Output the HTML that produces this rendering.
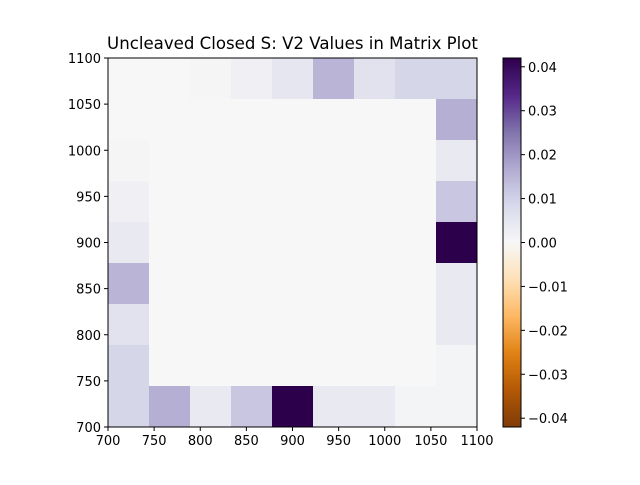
<!DOCTYPE html>
<html><head><meta charset="utf-8"><style>
body{margin:0;background:#fff;}
svg text{font-family:"DejaVu Sans","Liberation Sans",sans-serif;}
</style></head><body>
<svg id="c" width="640" height="480" xmlns="http://www.w3.org/2000/svg"></svg>
<script>
const xTicks=[700,750,800,850,900,950,1000,1050,1100];
const yTicks=[700,750,800,850,900,950,1000,1050,1100];
const cbTicks=[0.04,0.03,0.02,0.01,0.00,-0.01,-0.02,-0.03,-0.04];
const row0=[0,0,0.0005,0.002,0.005,0.015,0.006,0.009,0.009];
const row1=[0,0,0,0,0,0,0,0,0.016];
const row2=[0.0005,0,0,0,0,0,0,0,0.004];
const row3=[0.002,0,0,0,0,0,0,0,0.012];
const row4=[0.004,0,0,0,0,0,0,0,0.042];
const row5=[0.015,0,0,0,0,0,0,0,0.004];
const row6=[0.006,0,0,0,0,0,0,0,0.004];
const row7=[0.009,0,0,0,0,0,0,0,0.001];
const row8=[0.009,0.016,0.004,0.012,0.042,0.004,0.004,0.001,0.001];
const rows=[row0,row1,row2,row3,row4,row5,row6,row7,row8];
const vmin=-0.042,vmax=0.042;
const PX0=108,PX1=477,PY0=58,PY1=427;
const xs=v=>PX0+(v-700)/400*(PX1-PX0);
const ys=v=>PY1-(v-700)/400*(PY1-PY0);
const CBX=503,CBW=18;
const cbY=v=>PY1-(v-vmin)/(vmax-vmin)*(PY1-PY0);
const pu=[[127,59,8],[179,88,6],[224,130,20],[253,184,99],[254,224,182],[247,247,247],[216,218,235],[178,171,210],[128,115,172],[84,39,136],[45,0,75]];
function cmap(v){let t=(v-vmin)/(vmax-vmin);t=Math.max(0,Math.min(1,t))*10;let i=Math.min(9,Math.floor(t)),f=t-i;
const a=pu[i],b=pu[i+1];return 'rgb('+a.map((c,k)=>Math.round(c+(b[k]-c)*f)).join(',')+')';}
const svg=document.getElementById('c');const NS='http://www.w3.org/2000/svg';
function el(t,a,p){const e=document.createElementNS(NS,t);for(const k in a)e.setAttribute(k,a[k]);(p||svg).appendChild(e);return e;}
const n=rows.length,cw=400/n;
rows.forEach((r,ri)=>r.forEach((v,ci)=>{
 const x0=xs(700+ci*cw),x1=xs(700+(ci+1)*cw),y0=ys(1100-ri*cw),y1=ys(1100-(ri+1)*cw);
 const e=el('rect',{x:x0,y:y0,width:x1-x0+0.5,height:y1-y0+0.5,fill:cmap(v)});
 
 
}));
let fr=el('rect',{x:PX0,y:PY0,width:PX1-PX0,height:PY1-PY0,fill:'none',stroke:'#000','stroke-width':1});

xTicks.forEach(v=>{const x=xs(v);el('line',{x1:x,x2:x,y1:PY1,y2:PY1+4,stroke:'#000'});
 const t=el('text',{x:x,y:PY1+18,'text-anchor':'middle','font-size':13});t.textContent=v;
 });
yTicks.forEach(v=>{const y=ys(v);el('line',{x1:PX0-4,x2:PX0,y1:y,y2:y,stroke:'#000'});
 const t=el('text',{x:PX0-7,y:y+5,'text-anchor':'end','font-size':13});t.textContent=v;
 });
const defs=el('defs',{});const g=el('linearGradient',{id:'cg',x1:0,y1:1,x2:0,y2:0},defs);
for(let i=0;i<=20;i++){el('stop',{offset:i/20,'stop-color':cmap(vmin+(vmax-vmin)*i/20)},g);}
const cb=el('rect',{x:CBX,y:PY0,width:CBW,height:PY1-PY0,fill:'url(#cg)',stroke:'#000'});

cbTicks.forEach(v=>{const y=cbY(v);el('line',{x1:CBX+CBW,x2:CBX+CBW+4,y1:y,y2:y,stroke:'#000'});
 const t=el('text',{x:CBX+CBW+7,y:y+5,'font-size':13});t.textContent=(v<0?'\u2212':'')+Math.abs(v).toFixed(2);
 });
const ti=el('text',{x:(PX0+PX1)/2,y:49,'text-anchor':'middle','font-size':16.6});ti.textContent='Uncleaved Closed S: V2 Values in Matrix Plot';

</script>
</body></html>
